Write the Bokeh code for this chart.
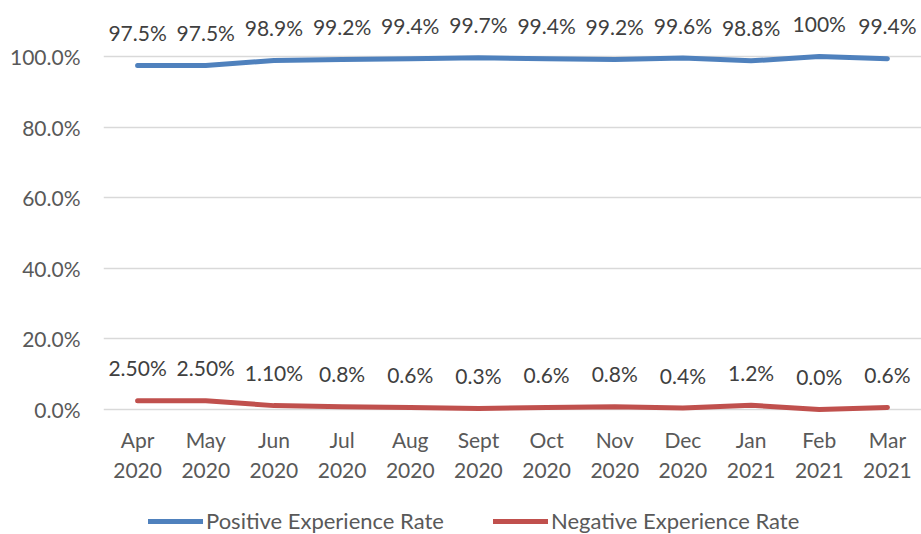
from bokeh.plotting import figure
from bokeh.layouts import column
from bokeh.models import (ColumnDataSource, FactorRange, Range1d, FixedTicker,
                          PrintfTickFormatter, LabelSet, Legend, LegendItem)
from bokeh.core.properties import value
from bokeh.embed import file_html
from bokeh.resources import INLINE

months = ["Apr\n2020", "May\n2020", "Jun\n2020", "Jul\n2020", "Aug\n2020", "Sept\n2020",
          "Oct\n2020", "Nov\n2020", "Dec\n2020", "Jan\n2021", "Feb\n2021", "Mar\n2021"]
positive = [97.5, 97.5, 98.9, 99.2, 99.4, 99.7, 99.4, 99.2, 99.6, 98.8, 100.0, 99.4]
positive_labels = ["97.5%", "97.5%", "98.9%", "99.2%", "99.4%", "99.7%", "99.4%",
                   "99.2%", "99.6%", "98.8%", "100%", "99.4%"]
negative = [2.5, 2.5, 1.1, 0.8, 0.6, 0.3, 0.6, 0.8, 0.4, 1.2, 0.0, 0.6]
negative_labels = ["2.50%", "2.50%", "1.10%", "0.8%", "0.6%", "0.3%", "0.6%",
                   "0.8%", "0.4%", "1.2%", "0.0%", "0.6%"]
series_names = ["Positive Experience Rate", "Negative Experience Rate"]
y_ticks = [0, 20, 40, 60, 80, 100]

FONT = "Lato"
TXT = "#595959"
BLUE = "#4F81BD"
RED = "#C0504D"

src = ColumnDataSource(dict(x=months, pos=positive, neg=negative,
                            pl=positive_labels, nl=negative_labels))
x_range = FactorRange(*months, range_padding=0)

p = figure(width=921, height=506, x_range=x_range,
           y_range=Range1d(-2.55, 115.9), output_backend="svg", toolbar_location=None,
           min_border_left=103, min_border_right=0, min_border_top=0, min_border_bottom=88)
p.outline_line_color = None
p.background_fill_color = "white"

p.line("x", "pos", source=src, line_color=BLUE, line_width=5, line_cap="round", line_join="round")
p.line("x", "neg", source=src, line_color=RED, line_width=5, line_cap="round", line_join="round")

for col, lab in (("pos", "pl"), ("neg", "nl")):
    ls = LabelSet(x="x", y=col, text=lab, source=src, text_align="center",
                  text_baseline="middle", y_offset=33, text_font=value(FONT),
                  text_font_size=value("21px"), text_color="#404040")
    p.add_layout(ls)

p.yaxis.ticker = FixedTicker(ticks=y_ticks)
p.yaxis.formatter = PrintfTickFormatter(format="%.1f%%")
p.yaxis.axis_line_color = None
p.yaxis.major_tick_line_color = None
p.yaxis.minor_tick_line_color = None
p.yaxis.major_label_text_font = FONT
p.yaxis.major_label_text_font_size = "21px"
p.yaxis.major_label_text_color = TXT
p.yaxis.major_label_standoff = 17

p.xaxis.axis_line_color = None
p.xaxis.major_tick_line_color = None
p.xaxis.major_label_text_font = FONT
p.xaxis.major_label_text_font_size = "21px"
p.xaxis.major_label_text_color = TXT
p.xaxis.major_label_standoff = 2

p.xgrid.grid_line_color = None
p.ygrid.grid_line_color = "#d9d9d9"
p.ygrid.grid_line_width = 1.5
p.ygrid.ticker = FixedTicker(ticks=y_ticks)

# legend strip below the chart (its lines sit outside its visible y-range)
lg = figure(width=921, height=28, x_range=x_range, y_range=Range1d(500, 600),
            output_backend="svg", toolbar_location=None,
            min_border_left=103, min_border_right=0, min_border_top=0, min_border_bottom=0)
lg.axis.visible = False
lg.grid.visible = False
lg.outline_line_color = None
l1 = lg.line("x", "pos", source=src, line_color=BLUE, line_width=5, line_cap="round")
l2 = lg.line("x", "neg", source=src, line_color=RED, line_width=5, line_cap="round")
legend = Legend(items=[LegendItem(label=series_names[0], renderers=[l1]),
                       LegendItem(label=series_names[1], renderers=[l2])],
                orientation="horizontal", location=(45, 0), glyph_width=55, glyph_height=20,
                label_text_font=FONT, label_text_font_size="22px", label_text_color=TXT,
                spacing=49, padding=1, margin=0, border_line_color=None,
                background_fill_alpha=0, label_standoff=3)
lg.add_layout(legend)

layout = column(p, lg, spacing=0)
open("out.html", "w").write(file_html(layout, INLINE))
